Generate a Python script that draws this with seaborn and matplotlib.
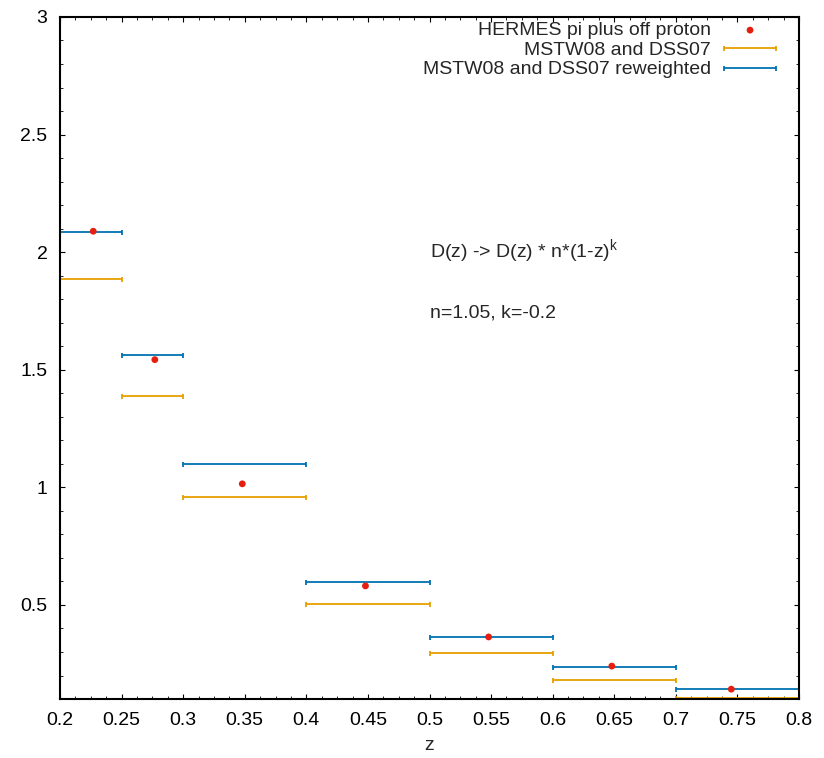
import numpy as np
import pandas as pd
import matplotlib
matplotlib.use('Agg')
import matplotlib.pyplot as plt
import seaborn as sns
from matplotlib.ticker import MultipleLocator
from matplotlib.legend_handler import HandlerErrorbar
from matplotlib.container import ErrorbarContainer

# bins in z
z_low = [0.2, 0.25, 0.3, 0.4, 0.5, 0.6, 0.7]
z_high = [0.25, 0.3, 0.4, 0.5, 0.6, 0.7, 0.8]

# HERMES data points
hermes_z = [0.227, 0.277, 0.348, 0.448, 0.548, 0.648, 0.745]
hermes_val = [2.089, 1.543, 1.015, 0.581, 0.364, 0.240, 0.142]

# theory predictions (per bin)
mstw_dss = [1.888, 1.390, 0.960, 0.504, 0.296, 0.181, 0.104]
mstw_dss_rew = [2.084, 1.561, 1.101, 0.598, 0.364, 0.236, 0.142]

sns.set_style("ticks")
plt.rcParams['font.family'] = ['Liberation Sans', 'DejaVu Sans']
plt.rcParams['font.size'] = 14

df = pd.DataFrame({'z': hermes_z, 'val': hermes_val})
centers = (np.array(z_low) + np.array(z_high)) / 2
half = (np.array(z_high) - np.array(z_low)) / 2

fig = plt.figure(figsize=(8.24, 7.58), dpi=100)
ax = fig.add_axes([0.0728, 0.0778, 0.8969, 0.8998])

sns.scatterplot(data=df, x='z', y='val', ax=ax, color='#e51e10', s=24,
                edgecolor='none', label='HERMES pi plus off proton', zorder=5)
ax.errorbar(centers, mstw_dss, xerr=half, fmt='none', ecolor='#e69f00',
            elinewidth=1.3, capsize=1.8, capthick=1.3,
            label='MSTW08 and DSS07')
ax.errorbar(centers, mstw_dss_rew, xerr=half, fmt='none', ecolor='#0072b2',
            elinewidth=1.3, capsize=1.8, capthick=1.3,
            label='MSTW08 and DSS07 reweighted')

ax.set_xlim(0.2, 0.8)
ax.set_ylim(0.1, 3.0)
ax.xaxis.set_major_locator(MultipleLocator(0.05))
ax.xaxis.set_minor_locator(MultipleLocator(0.0125))
ax.yaxis.set_major_locator(MultipleLocator(0.5))
ax.yaxis.set_minor_locator(MultipleLocator(0.1))
ax.set_xticklabels([f'{v:g}' for v in ax.get_xticks()])
ax.set_yticklabels([f'{v:g}' for v in ax.get_yticks()])
ax.tick_params(which='both', direction='in', top=True, right=True,
               labelsize=14, colors='black')
ax.tick_params(which='major', length=3.5, width=0.8, pad=9)
ax.tick_params(which='minor', length=2, width=0.6)
for sp in ax.spines.values():
    sp.set_linewidth(1.5)
    sp.set_color('black')

ax.set_xlabel('z', fontsize=14, labelpad=6)
ax.set_ylabel('')

ax.text(0.5, 2.0, r'D(z) -> D(z) * n*(1-z)$^\mathregular{k}$', fontsize=14,
        va='center', ha='left')
ax.text(0.5, 1.74, 'n=1.05, k=-0.2', fontsize=14, va='center', ha='left')

ax.legend(loc='upper right', frameon=False, markerfirst=False, fontsize=14,
          handlelength=2.7, borderaxespad=0.2, labelspacing=0.1,
          handletextpad=0.67, bbox_to_anchor=(0.985, 1.0103),
          handler_map={ErrorbarContainer: HandlerErrorbar(xerr_size=1.36)})

fig.savefig('out.png', dpi=100)
